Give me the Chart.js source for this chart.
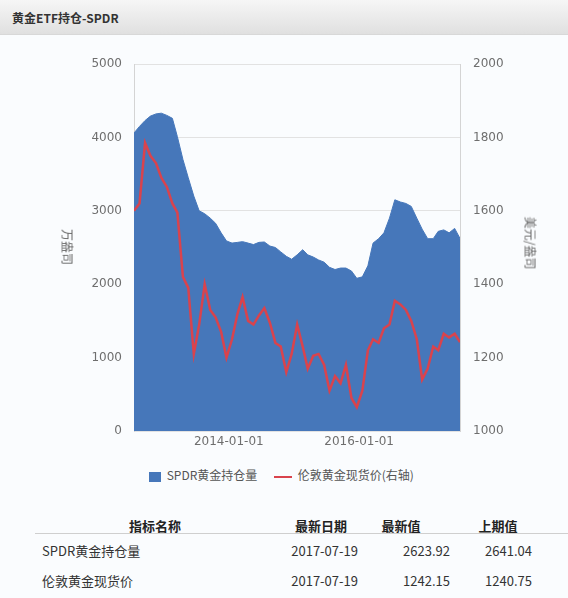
<!DOCTYPE html>
<html>
<head>
<meta charset="utf-8">
<script src="https://cdn.jsdelivr.net/npm/chart.js@4.4.1/dist/chart.umd.min.js"></script>
<style>
  body { margin: 0; width: 568px; height: 598px; background: #fafcfe; position: relative; overflow: hidden;
         font-family: "Noto Sans CJK SC", "Noto Sans", sans-serif; }
  .titlebar { position: absolute; left: 0; top: 0; width: 568px; height: 34px;
              background: linear-gradient(#f6f6f6, #e0e0e0); border-bottom: 1px solid #d8d8d8; }
  .titlebar span { position: absolute; left: 12px; top: 9px; font-size: 12px; font-weight: bold; color: #333; }
  #wrap { position: absolute; left: 0; top: 35px; width: 568px; height: 425px; }
  .axt { position: absolute; font-size: 12px; color: #666; transform: translate(-50%, -50%) rotate(90deg); white-space: nowrap; }
  .legend { position: absolute; top: 466px; left: 149px; font-size: 12px; color: #555; white-space: nowrap; line-height: 18px; }
  .legend i { display: inline-block; vertical-align: middle; }
  .cell { position: absolute; font-size: 13px; color: #333; white-space: nowrap; transform: translateY(-50%); }
  .hd { font-weight: bold; color: #222; }
</style>
</head>
<body>
<div class="titlebar"><span>黄金ETF持仓-SPDR</span></div>
<div id="wrap"><canvas id="myChart" width="568" height="425"></canvas></div>
<div class="axt" style="left:68px;top:247px">万盎司</div>
<div class="axt" style="left:531px;top:243px">美元/盎司</div>
<div class="legend">
  <i style="width:12px;height:10px;background:#4677ba"></i>
  <span style="margin-left:3px">SPDR黄金持仓量</span>
  <i style="width:18px;height:2px;background:#d9434d;margin-left:14px"></i>
  <span style="margin-left:3px">伦敦黄金现货价(右轴)</span>
</div>
<div id="table"></div>
<script>
var dates = [
  '2012-07-19','2012-08-19','2012-09-19','2012-10-19','2012-11-19','2012-12-19',
  '2013-01-19','2013-02-19','2013-03-19','2013-04-19','2013-05-19','2013-06-19','2013-07-19','2013-08-19','2013-09-19','2013-10-19','2013-11-19','2013-12-19',
  '2014-01-19','2014-02-19','2014-03-19','2014-04-19','2014-05-19','2014-06-19','2014-07-19','2014-08-19','2014-09-19','2014-10-19','2014-11-19','2014-12-19',
  '2015-01-19','2015-02-19','2015-03-19','2015-04-19','2015-05-19','2015-06-19','2015-07-19','2015-08-19','2015-09-19','2015-10-19','2015-11-19','2015-12-19',
  '2016-01-19','2016-02-19','2016-03-19','2016-04-19','2016-05-19','2016-06-19','2016-07-19','2016-08-19','2016-09-19','2016-10-19','2016-11-19','2016-12-19',
  '2017-01-19','2017-02-19','2017-03-19','2017-04-19','2017-05-19','2017-06-19','2017-07-19'
];
// SPDR holdings, 万盎司 (left axis)
var spdrHoldings = [
  4060, 4150, 4230, 4290, 4320, 4330,
  4300, 4260, 4010, 3700, 3450, 3200, 3000, 2960, 2900, 2830, 2700, 2590,
  2560, 2570, 2580, 2560, 2540, 2570, 2575, 2520, 2500, 2440, 2380, 2340,
  2400, 2470, 2400, 2370, 2330, 2300, 2230, 2200, 2220, 2220, 2180, 2080,
  2100, 2250, 2560, 2620, 2700, 2900, 3150, 3120, 3100, 3060, 2900, 2750,
  2620, 2620, 2720, 2740, 2700, 2760, 2624
];
// London spot gold, USD/oz (right axis)
var goldPrice = [
  1600, 1620, 1785, 1750, 1730, 1690,
  1665, 1620, 1595, 1420, 1390, 1210, 1290, 1400, 1330, 1310, 1270, 1200,
  1250, 1320, 1365, 1300, 1290, 1315, 1335, 1295, 1240, 1230, 1160, 1210,
  1290, 1230, 1170, 1205, 1210, 1180, 1110, 1150, 1130, 1180, 1090, 1065,
  1110, 1220, 1250, 1240, 1280, 1290, 1355, 1345, 1330, 1300, 1250, 1140,
  1170, 1230, 1220, 1265, 1255, 1265, 1242
];
var xTickDates = ['2014-01-01', '2016-01-01'];

var tableHead = ['指标名称', '最新日期', '最新值', '上期值'];
var tableRows = [
  ['SPDR黄金持仓量', '2017-07-19', '2623.92', '2641.04'],
  ['伦敦黄金现货价', '2017-07-19', '1242.15', '1240.75']
];

function pts(vals) {
  return vals.map(function (v, i) { return { x: Date.parse(dates[i]), y: v }; });
}

var tickFont = { family: 'DejaVu Sans', size: 12 };
var tickColor = '#6e6e6e';
var plain = function (v) { return String(v); };

var ctx = document.getElementById('myChart').getContext('2d');
var myChart = new Chart(ctx, {
  type: 'line',
  data: {
    datasets: [{
      label: 'SPDR黄金持仓量',
      data: pts(spdrHoldings),
      yAxisID: 'yL',
      fill: 'origin',
      backgroundColor: '#4677ba',
      borderColor: '#4677ba',
      borderWidth: 1,
      pointRadius: 0,
      order: 1
    }, {
      label: '伦敦黄金现货价(右轴)',
      data: pts(goldPrice),
      yAxisID: 'yR',
      fill: false,
      borderColor: '#d9434d',
      borderWidth: 2.5,
      pointRadius: 0,
      order: 0
    }]
  },
  options: {
    responsive: false,
    animation: false,
    layout: { padding: { top: 29, left: 0, right: 0, bottom: 0 } },
    plugins: { legend: { display: false }, tooltip: { enabled: false } },
    scales: {
      x: {
        type: 'linear',
        min: Date.parse(dates[0]),
        max: Date.parse(dates[dates.length - 1]),
        grid: { display: false, drawTicks: false },
        border: { display: false },
        afterBuildTicks: function (scale) {
          scale.ticks = xTickDates.map(function (d) { return { value: Date.parse(d) }; });
        },
        afterFit: function (scale) { scale.height = 29; },
        ticks: {
          font: tickFont, color: tickColor, padding: 4, maxRotation: 0, autoSkip: false,
          callback: function (v) { return new Date(v).toISOString().slice(0, 10); }
        }
      },
      yL: {
        position: 'left',
        min: 0, max: 5000,
        grid: { color: '#e2e2e2', drawTicks: false },
        border: { display: true, color: '#d4d4d4' },
        afterFit: function (scale) { scale.width = 134; },
        ticks: { stepSize: 1000, font: tickFont, color: tickColor, padding: 12, callback: plain }
      },
      yR: {
        position: 'right',
        min: 1000, max: 2000,
        grid: { display: false, drawTicks: false },
        border: { display: true, color: '#d4d4d4' },
        afterFit: function (scale) { scale.width = 108; },
        ticks: { stepSize: 200, font: tickFont, color: tickColor, padding: 13, callback: plain }
      }
    }
  }
});

// data table under the chart
var tbl = document.getElementById('table');
var colX = [155, 321, 401, 498];
var html = '';
tableHead.forEach(function (h, c) {
  html += '<div class="cell hd" style="top:525px;left:' + colX[c] + 'px;transform:translate(-50%,-50%)">' + h + '</div>';
});
html += '<div style="position:absolute;left:35px;top:533px;width:533px;height:1px;background:#cfcfcf"></div>';
var rowY = [550, 580];
var rightX = [0, 358, 450, 532];
tableRows.forEach(function (r, i) {
  html += '<div class="cell" style="top:' + rowY[i] + 'px;left:42px">' + r[0] + '</div>';
  for (var c = 1; c < 4; c++) {
    html += '<div class="cell" style="top:' + rowY[i] + 'px;right:' + (568 - rightX[c]) + 'px">' + r[c] + '</div>';
  }
});
tbl.innerHTML = html;
</script>
</body>
</html>
